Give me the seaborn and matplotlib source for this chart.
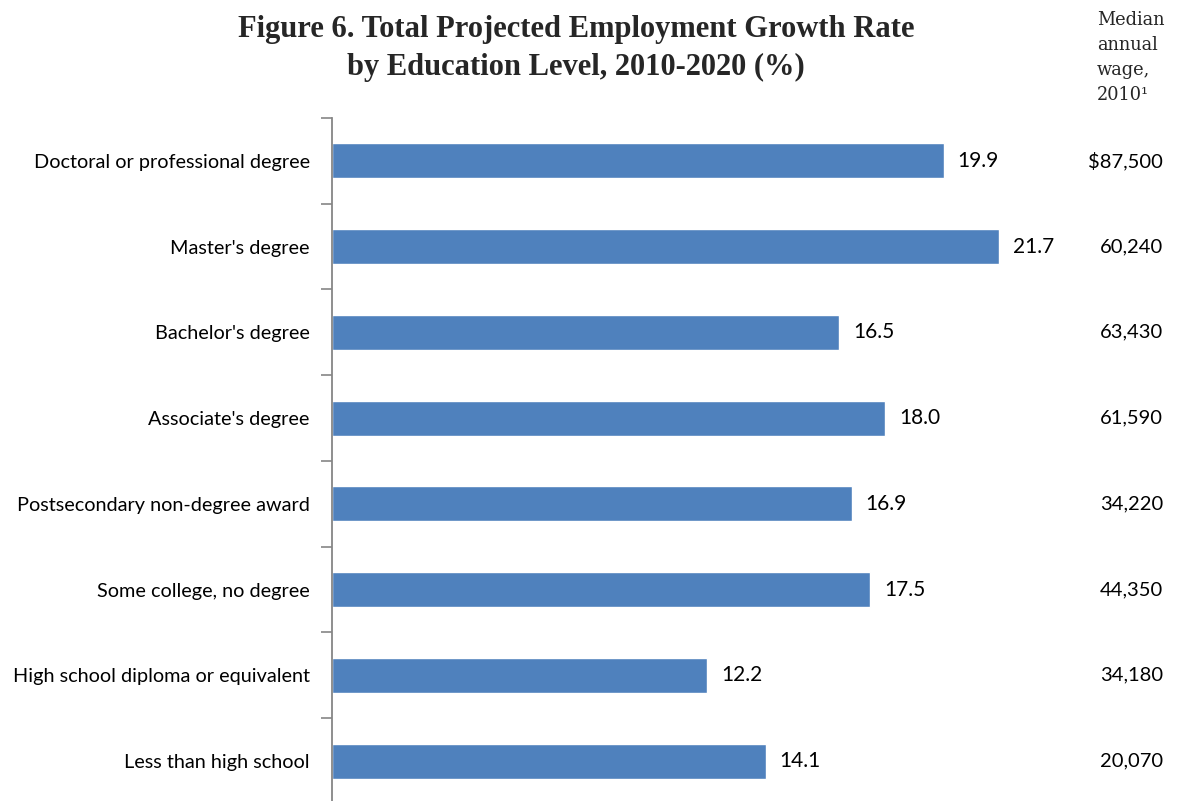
import matplotlib
matplotlib.use("Agg")
import matplotlib.pyplot as plt
import seaborn as sns
import pandas as pd

# data
levels = [
    "Doctoral or professional degree",
    "Master's degree",
    "Bachelor's degree",
    "Associate's degree",
    "Postsecondary non-degree award",
    "Some college, no degree",
    "High school diploma or equivalent",
    "Less than high school",
]
growth = [19.9, 21.7, 16.5, 18.0, 16.9, 17.5, 12.2, 14.1]
wages = ["$87,500", "60,240", "63,430", "61,590", "34,220", "44,350", "34,180", "20,070"]

df = pd.DataFrame({"level": levels, "growth": growth})

sns.set_style("white")
plt.rcParams["font.family"] = ["Lato", "DejaVu Sans"]

fig = plt.figure(figsize=(11.8, 8.01), dpi=100)
ax = fig.add_axes([0.2814, -0.0037, 0.6513, 0.8564])

sns.barplot(data=df, x="growth", y="level", orient="h", color="#4F81BD",
            saturation=1, width=0.41, ax=ax)

ax.set_xlim(0, 25)
ax.set_ylim(len(levels) - 0.5, -0.5)
ax.set_xlabel("")
ax.set_ylabel("")
ax.set_xticks([])
for s in ["top", "right", "bottom"]:
    ax.spines[s].set_visible(False)
ax.spines["left"].set_color("#868686")
ax.spines["left"].set_linewidth(1.3)

# ticks sit between the categories, labels have no tick
ax.set_yticks([i - 0.5 for i in range(len(levels) + 1)], minor=True)
ax.tick_params(axis="y", which="minor", left=True, length=8, width=1.2,
               color="#868686", direction="out")
ax.tick_params(axis="y", which="major", left=True, length=0, pad=16,
               labelsize=14.3, labelcolor="black")

ax.bar_label(ax.containers[0], fmt="%.1f", padding=10, fontsize=15, color="black")

# wage column on the right
for i, w in enumerate(wages):
    fig.text(1163 / 1180, ax.transData.transform((0, i))[1] / 801, w,
             ha="right", va="center", fontsize=14.5, color="black")

serif = ["Liberation Serif", "DejaVu Serif"]
fig.text(0.488, 1 - 30 / 801, "Figure 6. Total Projected Employment Growth Rate",
         ha="center", va="center", fontsize=22, fontweight="bold", family=serif)
fig.text(0.488, 1 - 67 / 801, "by Education Level, 2010-2020 (%)",
         ha="center", va="center", fontsize=22, fontweight="bold", family=serif)

fig.text(1097 / 1180, 1 - 11 / 801, "Median\nannual\nwage,\n2010\u00b9",
         ha="left", va="top", fontsize=12.8, linespacing=1.5,
         family=["DejaVu Serif"])

fig.savefig("out.png", dpi=100, facecolor="white")
